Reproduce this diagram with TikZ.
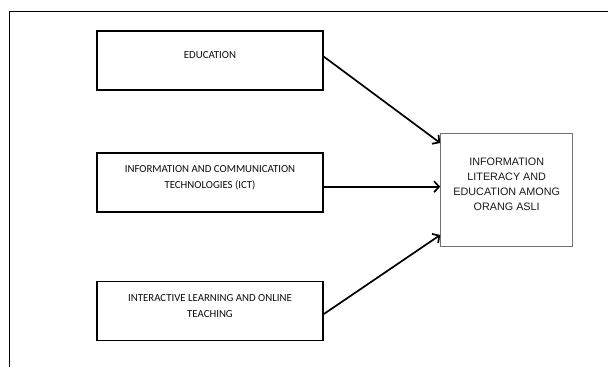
\documentclass[tikz,border=0pt]{standalone}
\usepackage{fontspec}
\usetikzlibrary{arrows.meta}
\setmainfont{Carlito}
\newfontfamily\arialfont{Liberation Sans}
\tikzset{
    RA1/.style ={rectangle, minimum width = 226pt, minimum height = 59pt, draw, line width=1.8pt},
    RA2/.style ={rectangle, minimum width = 132pt, minimum height = 113pt, draw=black!55, line width=1pt},
    TX1/.style ={align=center, inner sep=0pt, font=\fontsize{10.8}{16.5}\selectfont, text=black!95},
    TX2/.style ={align=center, inner sep=0pt, font=\arialfont\fontsize{10.8}{15}\selectfont, text=black!90},
    AR/.style ={line width=1.7pt, -{Straight Barb[length=5pt,width=11pt]}}}

\begin{document}
\begin{tikzpicture}[x=1pt, y=-1pt]
        \useasboundingbox (0,0) rectangle (608,367);
        % outer frame
        \draw[line width=1.3pt] (608,11.7) -- (9.3,11.7) -- (9.3,367);
        \node[RA1] (edu) at (210,60.5) {};
        \node[RA1] (ict) at (210,182.5) {};
        \node[RA1] (ilot) at (210,311) {};
        \node[RA2] (lit) at (506.7,190) {};
        \node[TX1] (edut) at (210,55) {EDUCATION};
        \node[TX1] (ictt) at (210,177.7) {INFORMATION AND COMMUNICATION\\TECHNOLOGIES (ICT)};
        \node[TX1] (ilott) at (210,306) {INTERACTIVE LEARNING AND ONLINE\\TEACHING};
        \node[TX2] (litt) at (506.7,184.7) {INFORMATION\\LITERACY AND\\EDUCATION AMONG\\ORANG ASLI};
        \draw[AR] ([yshift=3.8pt]edu.east) -- ([yshift=47pt]lit.west);
        \draw[AR] ([yshift=-4.2pt]ict.east) -- ([yshift=3.3pt]lit.west);
        \draw[AR] ([yshift=-3pt]ilot.east) -- ([yshift=-45pt]lit.west);
    \end{tikzpicture}
\end{document}
